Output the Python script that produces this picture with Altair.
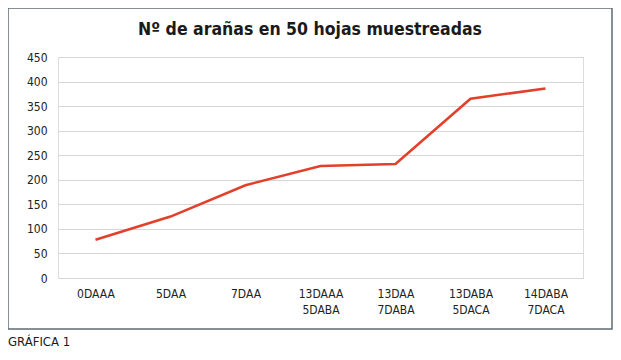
import altair as alt
import pandas as pd

categories = ["0DAAA", "5DAA", "7DAA", "13DAAA|5DABA", "13DAA|7DABA", "13DABA|5DACA", "14DABA|7DACA"]
values = [78, 125, 189, 228, 232, 365, 386]
y_ticks = [0, 50, 100, 150, 200, 250, 300, 350, 400, 450]

title_text = "Nº de arañas en 50 hojas muestreadas"
caption_text = "GRÁFICA 1"

FONT = "DejaVu Sans Condensed, Roboto, sans-serif"

df = pd.DataFrame({"cat": categories, "val": values})

line = alt.Chart(df).mark_line(color="#e2402a", strokeWidth=2.6).encode(
    x=alt.X("cat:N", sort=categories, title=None,
            scale=alt.Scale(type="point", padding=0.5),
            axis=alt.Axis(labelExpr="split(datum.label, '|')", labelAngle=0,
                          domain=False, ticks=False, grid=False,
                          labelFont=FONT, labelFontSize=12, labelColor="#222222",
                          labelPadding=10, labelLineHeight=16)),
    y=alt.Y("val:Q", title=None,
            scale=alt.Scale(domain=[0, 450], nice=False),
            axis=alt.Axis(values=y_ticks, domain=False, ticks=False,
                          gridColor="#d6d6d6", gridWidth=1.2,
                          labelFont=FONT, labelFontSize=12, labelColor="#222222",
                          labelPadding=11)),
)

box = alt.Chart(pd.DataFrame({"a": [0]})).mark_rect(
    fill=None, fillOpacity=0, stroke="#5d6b72", strokeWidth=1.5, clip=False
).encode(x=alt.value(-50), x2=alt.value(554), y=alt.value(-49), y2=alt.value(272))

title = alt.Chart(pd.DataFrame({"t": [title_text]})).mark_text(
    font=FONT, fontSize=17.5, fontWeight="bold", color="#1a1a1a",
    baseline="middle", align="center", clip=False
).encode(x=alt.value(252), y=alt.value(-27), text="t:N")

caption = alt.Chart(pd.DataFrame({"t": [caption_text]})).mark_text(
    font=FONT, fontSize=13, color="#1a1a1a",
    baseline="alphabetic", align="left", clip=False
).encode(x=alt.value(-50), y=alt.value(289), text="t:N")

chart = alt.layer(box, line, title, caption).properties(
    width=525, height=221,
    autosize=alt.AutoSizeParams(type="none"),
    padding={"left": 50, "top": 49, "right": 30, "bottom": 74},
).configure_view(stroke=None).configure(background="white")

chart.save("out.html", embed_options={"renderer": "svg", "actions": False})
